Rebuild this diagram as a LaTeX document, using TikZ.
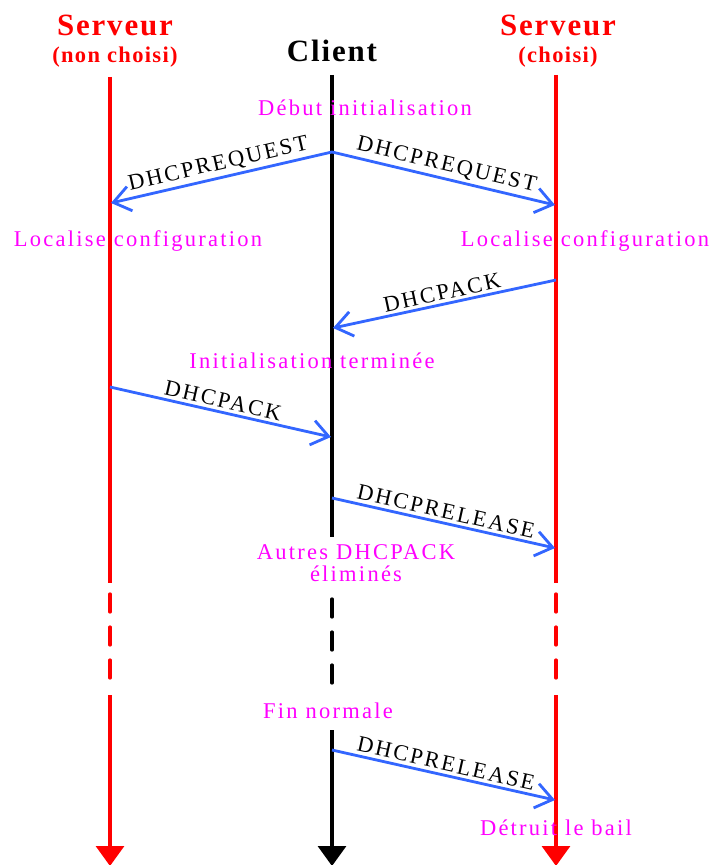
\documentclass[tikz,border=0pt]{standalone}
\usepackage{fontspec}
\setmainfont{Liberation Serif}
\newfontfamily\spacedfont[LetterSpace=10]{Liberation Serif}
\newfontfamily\headfont[LetterSpace=6]{Liberation Serif}
\usetikzlibrary{arrows.meta}
\definecolor{msgBlue}{RGB}{51,102,255}
\definecolor{lifeRed}{RGB}{255,0,0}
\definecolor{noteMagenta}{RGB}{255,0,255}
\tikzset{
  lifeline/.style={line width=2.3pt},
  lifeend/.style={lifeline, -{Triangle[length=0.5cm,width=0.7cm]}},
  lifedash/.style={lifeline, line cap=round, dash pattern=on 0.45cm off 0.375cm},
  message/.style={line width=2pt, msgBlue, -{Straight Barb[length=0.42cm,width=0.62cm]}},
  msglabel/.style={sloped, above, black, font=\spacedfont\fontsize{16}{19}\selectfont, inner sep=2pt},
  note/.style={noteMagenta, font=\spacedfont\fontsize{16}{19}\selectfont, align=center, inner sep=0pt},
  header/.style={font=\headfont\bfseries\fontsize{22}{26}\selectfont, inner sep=0pt},
  subheader/.style={font=\headfont\bfseries\fontsize{16}{19}\selectfont, inner sep=0pt}
}

\begin{document}
\begin{tikzpicture}[x=0.025cm, y=-0.025cm]
  \useasboundingbox (0,0) rectangle (710,865);

  % entetes
  \node[header, lifeRed] (srvA) at (115,25) {Serveur};
  \node[subheader, lifeRed] (srvAsub) at (115,57) {(non choisi)};
  \node[header] (client) at (332,51) {Client};
  \node[header, lifeRed] (srvB) at (558,25) {Serveur};
  \node[subheader, lifeRed] (srvBsub) at (558,57) {(choisi)};

  % lignes de vie
  \coordinate (A0) at (110,77);  \coordinate (A1) at (110,583);
  \coordinate (A2) at (110,594); \coordinate (A3) at (110,680);
  \coordinate (A4) at (110,695); \coordinate (A5) at (110,866);
  \coordinate (C0) at (332,75);  \coordinate (C1) at (332,537);
  \coordinate (C2) at (332,599); \coordinate (C3) at (332,685);
  \coordinate (C4) at (332,730); \coordinate (C5) at (332,866);
  \coordinate (B0) at (556,75);  \coordinate (B1) at (556,583);
  \coordinate (B2) at (556,594); \coordinate (B3) at (556,680);
  \coordinate (B4) at (556,695); \coordinate (B5) at (556,866);

  \draw[lifeline, lifeRed] (A0) -- (A1);
  \draw[lifedash, lifeRed] (A2) -- (A3);
  \draw[lifeend, lifeRed] (A4) -- (A5);
  \draw[lifeline] (C0) -- (C1);
  \draw[lifedash] (C2) -- (C3);
  \draw[lifeend] (C4) -- (C5);
  \draw[lifeline, lifeRed] (B0) -- (B1);
  \draw[lifedash, lifeRed] (B2) -- (B3);
  \draw[lifeend, lifeRed] (B4) -- (B5);

  % points des messages
  \coordinate (reqC) at (332,152);
  \coordinate (reqA) at (111,203);
  \coordinate (reqB) at (555,205);
  \coordinate (ackB) at (556,280);
  \coordinate (ackC) at (333,328);
  \coordinate (ackA) at (110,387);
  \coordinate (ackAC) at (331,437);
  \coordinate (relC) at (332,498);
  \coordinate (relB) at (555,548);
  \coordinate (finC) at (332,750);
  \coordinate (finB) at (555,800);

  \draw[message] (reqC) -- node[msglabel] {DHCPREQUEST} (reqA);
  \draw[message] (reqC) -- node[msglabel] {DHCPREQUEST} (reqB);
  \draw[message] (ackB) -- node[msglabel] {DHCPACK} (ackC);
  \draw[message] (ackA) -- node[msglabel] {DHCPACK} (ackAC);
  \draw[message] (relC) -- node[msglabel] {DHCPRELEASE} (relB);
  \draw[message] (finC) -- node[msglabel] {DHCPRELEASE} (finB);

  % etats
  \node[note] (debut) at (365,108) {Début initialisation};
  \node[note] (locA) at (138,241) {Localise configuration};
  \node[note] (locB) at (585,241) {Localise configuration};
  \node[note] (termine) at (312,361) {Initialisation terminée};
  \node[note] (autres) at (356,563) {Autres DHCPACK\\[-3pt]éliminés};
  \node[note] (fin) at (328,711) {Fin normale};
  \node[note] (detruit) at (556,828) {Détruit le bail};
\end{tikzpicture}
\end{document}
